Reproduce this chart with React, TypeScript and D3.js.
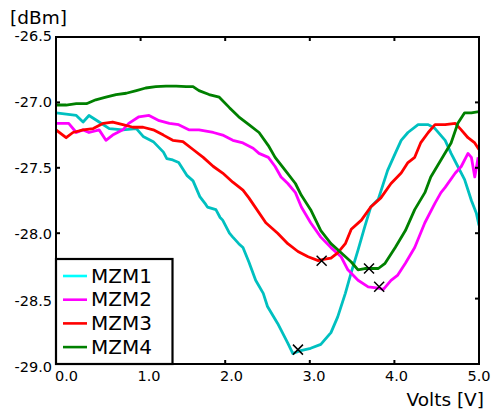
import { useEffect, useRef } from 'react';
import * as d3 from 'd3';

type Pt = [number, number];

// volts, dBm
const mzm1: Pt[] = [
  [0, -27.08], [0.24, -27.10], [0.32, -27.15], [0.39, -27.10], [0.51, -27.15], [0.63, -27.20],
  [0.79, -27.21], [0.95, -27.20], [1.03, -27.26], [1.15, -27.30], [1.27, -27.38], [1.31, -27.43],
  [1.38, -27.44], [1.45, -27.46], [1.55, -27.56], [1.62, -27.60], [1.70, -27.72], [1.77, -27.78],
  [1.79, -27.80], [1.89, -27.82], [1.94, -27.88], [1.97, -27.90], [2.05, -28.00], [2.09, -28.03],
  [2.16, -28.08], [2.21, -28.11], [2.28, -28.22], [2.36, -28.36], [2.45, -28.46], [2.50, -28.56],
  [2.62, -28.69], [2.74, -28.84], [2.80, -28.92], [2.88, -28.90], [3.01, -28.88], [3.13, -28.85],
  [3.25, -28.76], [3.33, -28.64], [3.42, -28.46], [3.49, -28.30], [3.57, -28.13], [3.65, -27.95],
  [3.72, -27.80], [3.81, -27.74], [3.92, -27.52], [4.01, -27.39], [4.08, -27.29], [4.16, -27.23],
  [4.28, -27.17], [4.40, -27.17], [4.48, -27.20], [4.60, -27.29], [4.67, -27.39], [4.75, -27.49],
  [4.83, -27.59], [4.87, -27.67], [4.91, -27.75], [4.97, -27.85], [5.0, -27.94],
];
const mzm2: Pt[] = [
  [0, -27.16], [0.15, -27.16], [0.24, -27.23], [0.32, -27.21], [0.39, -27.23], [0.51, -27.21],
  [0.59, -27.29], [0.67, -27.25], [0.79, -27.21], [0.86, -27.16], [0.98, -27.11], [1.10, -27.10],
  [1.22, -27.14], [1.34, -27.16], [1.45, -27.17], [1.57, -27.21], [1.69, -27.21], [1.86, -27.23],
  [1.97, -27.25], [2.09, -27.29], [2.21, -27.31], [2.33, -27.35], [2.40, -27.39], [2.51, -27.42],
  [2.59, -27.49], [2.66, -27.57], [2.74, -27.62], [2.83, -27.69], [2.90, -27.80], [3.01, -27.92],
  [3.13, -28.03], [3.25, -28.11], [3.37, -28.18], [3.45, -28.28], [3.57, -28.36], [3.69, -28.41],
  [3.81, -28.42], [3.87, -28.43], [3.96, -28.36], [4.04, -28.32], [4.13, -28.23], [4.24, -28.11],
  [4.36, -27.92], [4.48, -27.77], [4.55, -27.69], [4.60, -27.65], [4.72, -27.54], [4.79, -27.49],
  [4.87, -27.39], [4.91, -27.42], [4.95, -27.57], [4.99, -27.42],
];
const mzm3: Pt[] = [
  [0, -27.21], [0.12, -27.27], [0.20, -27.23], [0.32, -27.21], [0.44, -27.20], [0.56, -27.16],
  [0.67, -27.15], [0.79, -27.17], [0.91, -27.19], [1.03, -27.19], [1.15, -27.21], [1.27, -27.25],
  [1.38, -27.29], [1.50, -27.30], [1.62, -27.36], [1.74, -27.42], [1.86, -27.49], [1.97, -27.54],
  [2.09, -27.61], [2.21, -27.67], [2.28, -27.73], [2.48, -27.92], [2.62, -28.00], [2.74, -28.08],
  [2.86, -28.14], [2.98, -28.18], [3.10, -28.21], [3.16, -28.20], [3.25, -28.19], [3.33, -28.15],
  [3.42, -28.08], [3.49, -27.97], [3.61, -27.90], [3.72, -27.80], [3.84, -27.73], [3.96, -27.62],
  [4.08, -27.54], [4.16, -27.46], [4.24, -27.42], [4.31, -27.31], [4.40, -27.23], [4.48, -27.17],
  [4.60, -27.17], [4.72, -27.16], [4.79, -27.21], [4.87, -27.27], [4.95, -27.31], [5.0, -27.36],
];
const mzm4: Pt[] = [
  [0, -27.02], [0.12, -27.02], [0.24, -27.01], [0.36, -27.01], [0.47, -26.98], [0.59, -26.96],
  [0.71, -26.94], [0.83, -26.93], [0.95, -26.91], [1.06, -26.89], [1.18, -26.88], [1.30, -26.875],
  [1.42, -26.875], [1.54, -26.88], [1.62, -26.88], [1.69, -26.91], [1.81, -26.94], [1.93, -26.96],
  [2.05, -27.04], [2.16, -27.11], [2.28, -27.17], [2.40, -27.23], [2.51, -27.33], [2.59, -27.42],
  [2.71, -27.52], [2.83, -27.62], [2.90, -27.71], [3.01, -27.82], [3.13, -27.98], [3.25, -28.08],
  [3.37, -28.15], [3.49, -28.22], [3.57, -28.28], [3.65, -28.27], [3.71, -28.27], [3.81, -28.27],
  [3.89, -28.23], [4.01, -28.11], [4.13, -27.98], [4.24, -27.82], [4.36, -27.69], [4.43, -27.57],
  [4.55, -27.44], [4.67, -27.31], [4.75, -27.16], [4.83, -27.08], [4.91, -27.08], [5.0, -27.07],
];

// minima marked with an X
const minima: Pt[] = [[2.86, -28.89], [3.82, -28.41], [3.14, -28.21], [3.70, -28.27]];

const seriesNames = ['MZM1', 'MZM2', 'MZM3', 'MZM4'];
const lineColors = ['#00c0c0', '#ff00ff', '#ff0000', '#008000'];
const legendColors = ['#00ffff', '#ff00ff', '#ff0000', '#008000'];
const xTicks = [0, 1, 2, 3, 4, 5];
const yTicks = [-26.5, -27.0, -27.5, -28.0, -28.5, -29.0];

export default function App() {
  const gRef = useRef<SVGGElement>(null);

  useEffect(() => {
    document.body.style.margin = '0';
    if (!gRef.current) return;
    const g = d3.select(gRef.current);
    g.selectAll('*').remove();

    const left = 56, right = 479, top = 37, bottom = 364;
    const x = d3.scaleLinear().domain([0, 5]).range([left, right]);
    const y = d3.scaleLinear().domain([-29, -26.5]).range([bottom, top]);
    // tick labels in the original sit on a slightly different spacing than the ticks
    const xLab = d3.scaleLinear().domain([0, 5]).range([66.5, 479]);
    const yLab = d3.scaleLinear().domain([-29, -26.5]).range([367, 35.7]);
    const font = 'DejaVu Sans, sans-serif';

    g.append('clipPath').attr('id', 'plotclip')
      .append('rect').attr('x', left).attr('y', top)
      .attr('width', right - left).attr('height', bottom - top);

    const line = d3.line<Pt>().x(d => x(d[0])).y(d => y(d[1]));
    const plot = g.append('g').attr('clip-path', 'url(#plotclip)');
    [mzm1, mzm2, mzm3, mzm4].forEach((s, i) => {
      plot.append('path')
        .attr('d', line(s))
        .attr('fill', 'none')
        .attr('stroke', lineColors[i])
        .attr('stroke-width', 2.8)
        .attr('stroke-linejoin', 'round');
    });

    // X markers
    g.selectAll('.mark')
      .data(minima)
      .enter().append('path')
      .attr('class', 'mark')
      .attr('d', d => {
        const cx = x(d[0]), cy = y(d[1]), r = 5;
        return `M${cx - r},${cy - r}L${cx + r},${cy + r}M${cx - r},${cy + r}L${cx + r},${cy - r}`;
      })
      .attr('stroke', '#000')
      .attr('stroke-width', 1.5);

    // frame
    g.append('rect')
      .attr('x', left).attr('y', top)
      .attr('width', right - left).attr('height', bottom - top)
      .attr('fill', 'none').attr('stroke', '#000').attr('stroke-width', 2);

    // inward ticks on all sides
    const tl = 4;
    xTicks.forEach(t => {
      g.append('line').attr('x1', x(t)).attr('x2', x(t)).attr('y1', bottom).attr('y2', bottom - tl)
        .attr('stroke', '#000').attr('stroke-width', 2);
      g.append('line').attr('x1', x(t)).attr('x2', x(t)).attr('y1', top).attr('y2', top + tl)
        .attr('stroke', '#000').attr('stroke-width', 2);
      g.append('text')
        .attr('x', xLab(t)).attr('y', 381)
        .attr('text-anchor', 'middle')
        .attr('font-family', font).attr('font-size', 14.5)
        .text(t.toFixed(1));
    });
    yTicks.forEach(t => {
      g.append('line').attr('x1', left).attr('x2', left + tl).attr('y1', y(t)).attr('y2', y(t))
        .attr('stroke', '#000').attr('stroke-width', 2);
      g.append('line').attr('x1', right).attr('x2', right - tl).attr('y1', y(t)).attr('y2', y(t))
        .attr('stroke', '#000').attr('stroke-width', 2);
      g.append('text')
        .attr('x', 52).attr('y', yLab(t) + 5)
        .attr('text-anchor', 'end')
        .attr('font-family', font).attr('font-size', 14.5)
        .text(t.toFixed(1));
    });

    g.append('text').attr('x', 10).attr('y', 23.5)
      .attr('font-family', font).attr('font-size', 18.5).text('[dBm]');
    g.append('text').attr('x', 484).attr('y', 406).attr('text-anchor', 'end')
      .attr('font-family', font).attr('font-size', 18.5).text('Volts [V]');

    // legend
    const lg = g.append('g');
    lg.append('rect')
      .attr('x', left).attr('y', 259).attr('width', 116.5).attr('height', bottom - 259)
      .attr('fill', '#fff').attr('stroke', '#000').attr('stroke-width', 2.2);
    seriesNames.forEach((n, i) => {
      const yy = 276 + i * 23.7;
      lg.append('line').attr('x1', 63).attr('x2', 87).attr('y1', yy).attr('y2', yy)
        .attr('stroke', legendColors[i]).attr('stroke-width', 2.6);
      lg.append('text').attr('x', 91).attr('y', yy + 6.5)
        .attr('font-family', font).attr('font-size', 20).text(n);
    });
  }, []);

  return (
    <svg width={492} height={413} viewBox="0 0 492 413" style={{ display: 'block', background: '#fff' }}>
      <g ref={gRef} />
    </svg>
  );
}
